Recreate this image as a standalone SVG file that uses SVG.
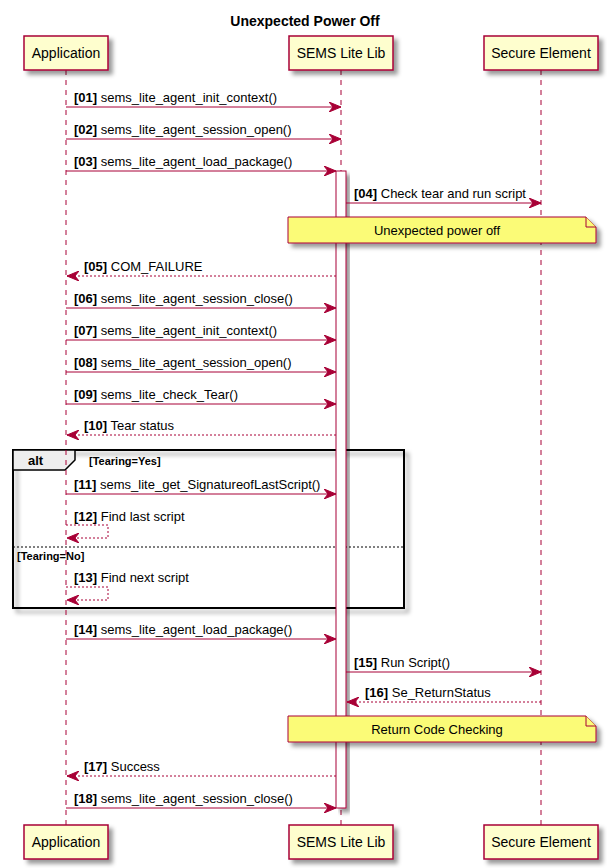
<svg xmlns="http://www.w3.org/2000/svg" width="607" height="868" viewBox="0 0 607 868">
<style>
text{font-family:"Liberation Sans",Arial,sans-serif;fill:#000}
.t{font-size:14px;font-weight:bold}
.p{font-size:14px;text-anchor:middle}
.m{font-size:13px}
.b{font-weight:bold}
.g{font-size:11px;font-weight:bold}
.n{font-size:13px;text-anchor:middle}
.part{fill:#FEFECE;stroke:#A80036;stroke-width:1.5}
.life{stroke:#A80036;stroke-width:1;stroke-dasharray:5,5}
.msg{stroke:#A80036;stroke-width:1;fill:none}
.ret{stroke:#A80036;stroke-width:1;fill:none;stroke-dasharray:2,2}
.note{fill:#FBFB77;stroke:#A80036;stroke-width:1}
</style>
<defs>
<filter id="sh" x="-20%" y="-20%" width="160%" height="160%">
<feGaussianBlur in="SourceAlpha" stdDeviation="2" result="bl"/>
<feColorMatrix in="bl" type="matrix" values="0 0 0 0 0 0 0 0 0 0 0 0 0 0 0 0 0 0 0.4 0" result="c"/>
<feOffset in="c" dx="4" dy="4" result="o"/>
<feMerge><feMergeNode in="o"/><feMergeNode in="SourceGraphic"/></feMerge>
</filter>
<marker id="ah" markerUnits="userSpaceOnUse" markerWidth="12" markerHeight="10" viewBox="0 0 12 10" refX="12" refY="5" orient="auto">
<path d="M0,0 L12,5 L0,10 L4,5 Z" fill="#A80036" stroke="#A80036" stroke-width="1"/>
</marker>
</defs>

<text class="t" x="305" y="26" text-anchor="middle">Unexpected Power Off</text>

<g id="alt-frame">
<rect x="13" y="450" width="391" height="158" fill="none" stroke="#000" stroke-width="2" filter="url(#sh)"/>
<polygon points="13,450 75,450 75,460 65,470 13,470" fill="#EEEEEE" stroke="#000" stroke-width="1.5"/>
<text class="m b" x="28" y="465">alt</text>
<text class="g" x="89" y="465">[Tearing=Yes]</text>
<line x1="13" y1="547" x2="404" y2="547" stroke="#000" stroke-width="1" stroke-dasharray="2,2"/>
<text class="g" x="17" y="560">[Tearing=No]</text>
</g>

<g id="lifelines">
<line class="life" x1="66" y1="70" x2="66" y2="825"/>
<line class="life" x1="341" y1="70" x2="341" y2="825"/>
<line class="life" x1="541" y1="70" x2="541" y2="825"/>
</g>

<g id="activation">
<rect x="336" y="171" width="10" height="637" fill="#FFFFFF" stroke="#A80036" stroke-width="1" filter="url(#sh)"/>
</g>

<g id="participant-application">
<rect class="part" x="24" y="36" width="84" height="34" filter="url(#sh)"/>
<text class="p" x="66" y="58">Application</text>
<rect class="part" x="24" y="825" width="84" height="34" filter="url(#sh)"/>
<text class="p" x="66" y="847">Application</text>
</g>
<g id="participant-sems">
<rect class="part" x="289" y="36" width="104" height="34" filter="url(#sh)"/>
<text class="p" x="341" y="58">SEMS Lite Lib</text>
<rect class="part" x="289" y="825" width="104" height="34" filter="url(#sh)"/>
<text class="p" x="341" y="847">SEMS Lite Lib</text>
</g>
<g id="participant-se">
<rect class="part" x="484" y="36" width="114" height="34" filter="url(#sh)"/>
<text class="p" x="541" y="58">Secure Element</text>
<rect class="part" x="484" y="825" width="114" height="34" filter="url(#sh)"/>
<text class="p" x="541" y="847">Secure Element</text>
</g>

<g id="connectors">
<line class="msg" x1="66" y1="107" x2="341" y2="107" marker-end="url(#ah)"/>
<line class="msg" x1="66" y1="139" x2="341" y2="139" marker-end="url(#ah)"/>
<line class="msg" x1="66" y1="171" x2="336" y2="171" marker-end="url(#ah)"/>
<line class="msg" x1="346" y1="203" x2="541" y2="203" marker-end="url(#ah)"/>
<line class="ret" x1="336" y1="276" x2="67" y2="276" marker-end="url(#ah)"/>
<line class="msg" x1="66" y1="308" x2="336" y2="308" marker-end="url(#ah)"/>
<line class="msg" x1="66" y1="340" x2="336" y2="340" marker-end="url(#ah)"/>
<line class="msg" x1="66" y1="372" x2="336" y2="372" marker-end="url(#ah)"/>
<line class="msg" x1="66" y1="404" x2="336" y2="404" marker-end="url(#ah)"/>
<line class="ret" x1="336" y1="435" x2="67" y2="435" marker-end="url(#ah)"/>
<line class="msg" x1="66" y1="494" x2="336" y2="494" marker-end="url(#ah)"/>
<path class="ret" d="M66,525 H108 V538 H67" marker-end="url(#ah)"/>
<path class="ret" d="M66,587 H108 V600 H67" marker-end="url(#ah)"/>
<line class="msg" x1="66" y1="639" x2="336" y2="639" marker-end="url(#ah)"/>
<line class="msg" x1="346" y1="672" x2="541" y2="672" marker-end="url(#ah)"/>
<line class="ret" x1="541" y1="702" x2="347" y2="702" marker-end="url(#ah)"/>
<line class="ret" x1="336" y1="776" x2="67" y2="776" marker-end="url(#ah)"/>
<line class="msg" x1="66" y1="808" x2="336" y2="808" marker-end="url(#ah)"/>
</g>

<g id="labels">
<text class="m" x="74" y="102"><tspan class="b">[01]</tspan> sems_lite_agent_init_context()</text>
<text class="m" x="74" y="134"><tspan class="b">[02]</tspan> sems_lite_agent_session_open()</text>
<text class="m" x="74" y="166"><tspan class="b">[03]</tspan> sems_lite_agent_load_package()</text>
<text class="m" x="354" y="198"><tspan class="b">[04]</tspan> Check tear and run script</text>
<text class="m" x="84" y="271"><tspan class="b">[05]</tspan> COM_FAILURE</text>
<text class="m" x="74" y="303"><tspan class="b">[06]</tspan> sems_lite_agent_session_close()</text>
<text class="m" x="74" y="335"><tspan class="b">[07]</tspan> sems_lite_agent_init_context()</text>
<text class="m" x="74" y="367"><tspan class="b">[08]</tspan> sems_lite_agent_session_open()</text>
<text class="m" x="74" y="399"><tspan class="b">[09]</tspan> sems_lite_check_Tear()</text>
<text class="m" x="84" y="430"><tspan class="b">[10]</tspan> Tear status</text>
<text class="m" x="74" y="489"><tspan class="b">[11]</tspan> sems_lite_get_SignatureofLastScript()</text>
<text class="m" x="74" y="521"><tspan class="b">[12]</tspan> Find last script</text>
<text class="m" x="74" y="582"><tspan class="b">[13]</tspan> Find next script</text>
<text class="m" x="74" y="634"><tspan class="b">[14]</tspan> sems_lite_agent_load_package()</text>
<text class="m" x="354" y="667"><tspan class="b">[15]</tspan> Run Script()</text>
<text class="m" x="365" y="697"><tspan class="b">[16]</tspan> Se_ReturnStatus</text>
<text class="m" x="84" y="771"><tspan class="b">[17]</tspan> Success</text>
<text class="m" x="74" y="803"><tspan class="b">[18]</tspan> sems_lite_agent_session_close()</text>
</g>

<g id="note-power-off">
<path class="note" d="M288,217 H586 L596,227 V243 H288 Z" filter="url(#sh)"/>
<path class="note" d="M586,217 V227 H596"/>
<text class="n" x="437" y="235">Unexpected power off</text>
</g>
<g id="note-return-code">
<path class="note" d="M288,716 H586 L596,726 V742 H288 Z" filter="url(#sh)"/>
<path class="note" d="M586,716 V726 H596"/>
<text class="n" x="437" y="734">Return Code Checking</text>
</g>
</svg>
